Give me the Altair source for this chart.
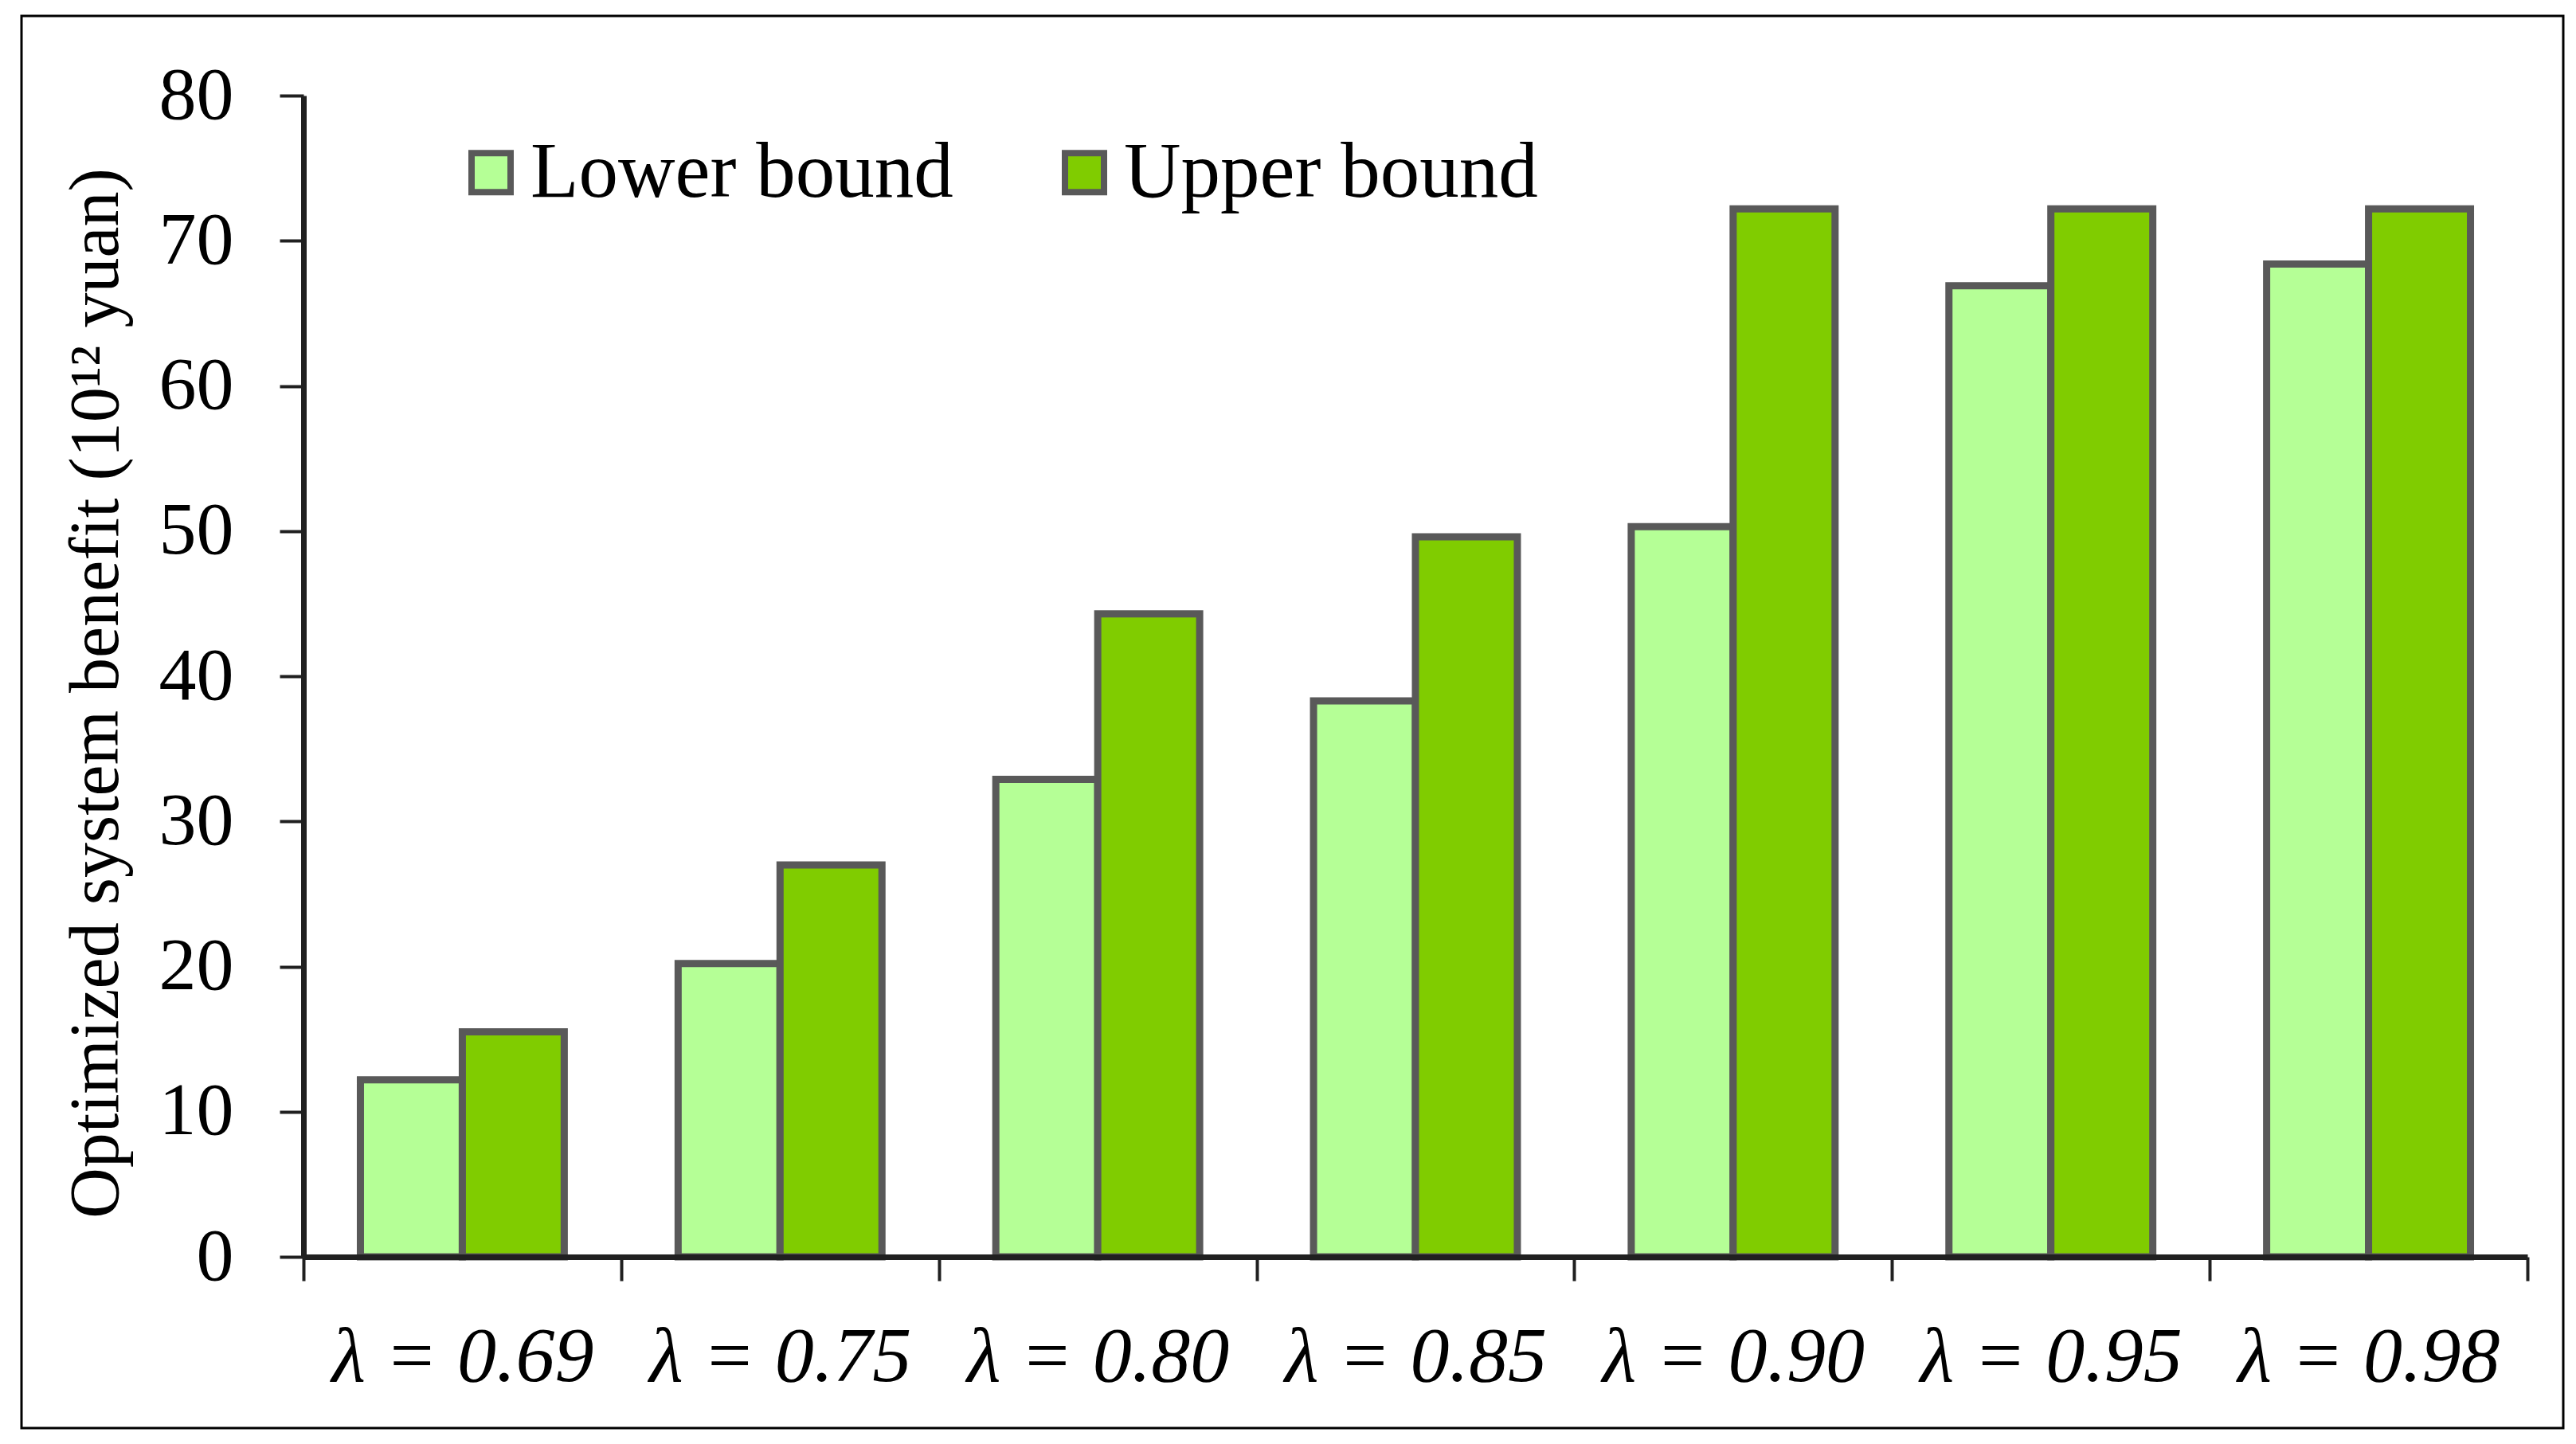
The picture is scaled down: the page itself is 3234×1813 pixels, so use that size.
import altair as alt
import pandas as pd

categories = ["λ = 0.69", "λ = 0.75", "λ = 0.80", "λ = 0.85", "λ = 0.90", "λ = 0.95", "λ = 0.98"]
lower = [12.2, 20.2, 32.9, 38.3, 50.3, 66.9, 68.4]
upper = [15.5, 27.0, 44.3, 49.6, 72.2, 72.2, 72.2]
series = ["Lower bound", "Upper bound"]
colors = ["#B5FF96", "#80CC00"]
y_ticks = [0, 10, 20, 30, 40, 50, 60, 70, 80]
y_title = "Optimized  system benefit (10¹² yuan)"

rows = []
for c, lo, up in zip(categories, lower, upper):
    rows.append({"lam": c, "series": series[0], "value": lo})
    rows.append({"lam": c, "series": series[1], "value": up})
df = pd.DataFrame(rows)

W, H = 2792, 1458
FONT = "Liberation Serif"
AXC = "#202020"

bars = alt.Chart(df).mark_bar(stroke="#595959", strokeWidth=9, strokeJoin="miter").encode(
    x=alt.X(
        "lam:N", sort=categories, title=None,
        scale=alt.Scale(paddingInner=0, paddingOuter=0),
        axis=alt.Axis(labelAngle=0, labelFont=FONT, labelFontSize=98, labelFontStyle="italic",
                      labelColor="black", labelPadding=48, labelLimit=0, tickBand="extent",
                      tickSize=30, tickWidth=4, tickColor=AXC, domainColor=AXC, domainWidth=7,
                      zindex=1, grid=False),
    ),
    xOffset=alt.XOffset("series:N", sort=series,
                        scale=alt.Scale(paddingInner=0, paddingOuter=0.5586)),
    y=alt.Y(
        "value:Q",
        scale=alt.Scale(domain=[0, 80], nice=False),
        axis=alt.Axis(values=y_ticks, title=y_title, labelFont=FONT, labelFontSize=94,
                      labelColor="black", labelPadding=58, tickSize=30, tickWidth=4,
                      tickColor=AXC, domainColor=AXC, domainWidth=7, grid=False, zindex=1,
                      titleFont=FONT, titleFontSize=88, titleFontWeight="normal",
                      titleColor="black", titleX=-234, titleY=750, titleAngle=270,
                      titleBaseline="alphabetic", titleAlign="center"),
    ),
    color=alt.Color(
        "series:N",
        scale=alt.Scale(domain=series, range=colors),
        legend=alt.Legend(orient="none", legendX=186, legendY=47, direction="horizontal",
                          title=None, labelFont=FONT, labelFontSize=99, labelColor="black",
                          labelLimit=0, symbolType="square", symbolSize=2401,
                          symbolStrokeWidth=8, symbolStrokeColor="#595959", symbolOpacity=1,
                          columnPadding=115, labelOffset=0, padding=0),
    ),
)

frame = alt.Chart(pd.DataFrame({"a": [0]})).mark_rect(
    filled=False, stroke="black", strokeWidth=3
).encode(x=alt.value(-354), x2=alt.value(2837), y=alt.value(-100), y2=alt.value(1673))

chart = alt.layer(frame, bars).properties(
    width=W, height=H,
    autosize=alt.AutoSizeParams(type="none"),
    padding={"left": 373, "top": 112, "right": 50, "bottom": 222},
    background="white",
).configure_view(stroke=None)

chart.save("out.html", embed_options={"renderer": "svg", "actions": False})
